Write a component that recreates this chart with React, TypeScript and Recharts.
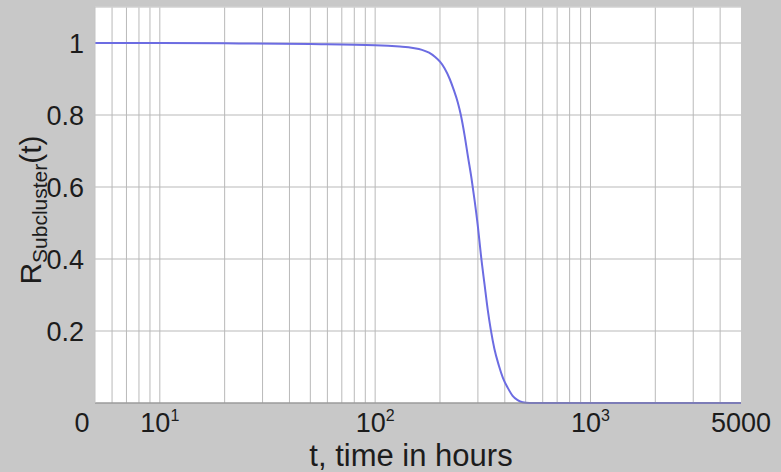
import { CartesianGrid, Line, LineChart, ReferenceLine, XAxis, YAxis } from "recharts";

// hours and reliability of the subcluster
const hours = [5, 10, 20, 50, 100, 130, 150, 165, 178, 190, 200, 210, 222, 232, 242, 250, 260, 270, 280, 290, 300, 310, 322, 334, 344, 358, 375, 392, 413, 435, 459, 484, 520, 1000, 2000, 5000];
const reliability = [1.0, 1.0, 0.999, 0.997, 0.994, 0.99, 0.986, 0.981, 0.973, 0.961, 0.948, 0.93, 0.9, 0.869, 0.835, 0.8, 0.745, 0.683, 0.625, 0.56, 0.49, 0.41, 0.33, 0.255, 0.205, 0.15, 0.105, 0.07, 0.042, 0.02, 0.008, 0.002, 0, 0, 0, 0];

const xTicks = [5, 10, 100, 1000, 5000];
const xTickLabels = ["0", "10", "10", "10", "5000"];
const xTickExponents = ["", "1", "2", "3", ""];
const yTicks = [0.2, 0.4, 0.6, 0.8, 1];
const xGrid = [6, 7, 8, 9, 10, 20, 30, 40, 50, 60, 70, 80, 90, 100, 200, 300, 400, 500, 600, 700, 800, 900, 1000, 2000, 3000, 4000];

const data = hours.map((t, i) => ({ t, r: reliability[i] }));

const FONT = "'Liberation Sans', Arial, Helvetica, sans-serif";
const INK = "#1c1c1c";
const GRID = "#b9b9b9";

function XTick(props: any) {
  const { x, y, payload, index } = props;
  const i = xTicks.indexOf(payload.value);
  const label = xTickLabels[i] ?? "";
  const exp = xTickExponents[i] ?? "";
  return (
    <text x={x} y={y} dx={index === 0 ? -13 : 0} dy={29} textAnchor="middle" fontSize={27} fontFamily={FONT} fill={INK}>
      {label}
      {exp && (
        <tspan fontSize={16} dy={-11}>
          {exp}
        </tspan>
      )}
    </text>
  );
}

function XLabel(props: any) {
  const { viewBox } = props;
  const cx = viewBox.x + viewBox.width / 2 - 7;
  return (
    <text x={cx} y={viewBox.y + 63} textAnchor="middle" fontSize={31} fontFamily={FONT} fill={INK}>
      t, time in hours
    </text>
  );
}

function YLabel() {
  const cx = 41;
  const cy = 210;
  return (
    <text x={cx} y={cy} transform={`rotate(-90, ${cx}, ${cy})`} textAnchor="middle" fontSize={30} fontFamily={FONT} fill={INK}>
      R
      <tspan fontSize={21} dy={6}>
        Subcluster
      </tspan>
      <tspan dy={-6}>(t)</tspan>
    </text>
  );
}

export default function App() {
  return (
    <div style={{ position: "absolute", left: 0, top: 0, width: 781, height: 472, background: "#c8c8c8" }}>
      <LineChart width={781} height={472} data={data} margin={{ top: 7, right: 40, bottom: 0, left: 35 }}>
        <CartesianGrid vertical={false} fill="#ffffff" stroke={GRID} />
        {xGrid.map((v) => (
          <ReferenceLine key={v} x={v} stroke={GRID} />
        ))}
        <ReferenceLine y={1.1} stroke="#dddddd" />
        <XAxis
          dataKey="t"
          type="number"
          scale="log"
          domain={[5, 5000]}
          ticks={xTicks}
          allowDataOverflow
          height={69}
          tickLine={false}
          tickSize={0}
          tickMargin={0}
          axisLine={{ stroke: "#8c8c8c" }}
          tick={<XTick />}
          label={<XLabel />}
        />
        <YAxis
          type="number"
          domain={[0, 1.1]}
          ticks={yTicks}
          width={60}
          tickLine={false}
          tickMargin={5}
          axisLine={{ stroke: "#c4c4c4" }}
          tick={{ fontSize: 27, fontFamily: FONT, fill: INK }}
          label={<YLabel />}
        />
        <Line
          type="monotone"
          dataKey="r"
          stroke="#6c6ce2"
          strokeWidth={2}
          dot={false}
          isAnimationActive={false}
        />
      </LineChart>
    </div>
  );
}
